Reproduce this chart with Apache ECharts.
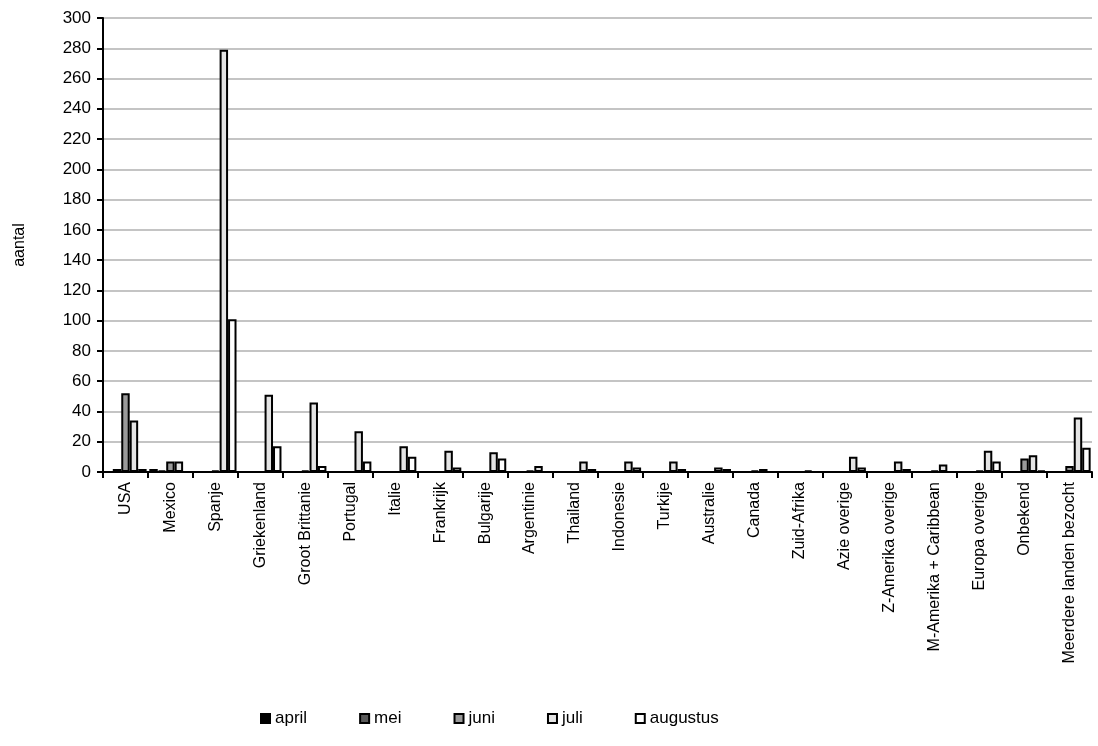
<!DOCTYPE html>
<html>
<head>
<meta charset="utf-8">
<script src="https://cdn.jsdelivr.net/npm/echarts@6/dist/echarts.min.js"></script>
<style>
  html, body { margin: 0; padding: 0; background: #fff; }
  #chart { width: 1098px; height: 746px; }
</style>
</head>
<body>
<div id="chart"></div>
<script>
  // landen (categorieen)
  const countries = ['USA', 'Mexico', 'Spanje', 'Griekenland', 'Groot Brittanie', 'Portugal', 'Italie',
    'Frankrijk', 'Bulgarije', 'Argentinie', 'Thailand', 'Indonesie', 'Turkije', 'Australie', 'Canada',
    'Zuid-Afrika', 'Azie overige', 'Z-Amerika overige', 'M-Amerika + Caribbean', 'Europa overige',
    'Onbekend', 'Meerdere landen bezocht']

  // waarden per maand
  const april    = [0, 2, 0, 0, 0, 0, 0, 0, 0, 0, 0, 0, 0, 0, 0, 0, 0, 0, 0, 0, 0, 0]
  const mei      = [2, 1, 0, 0, 0, 0, 0, 0, 0, 0, 0, 0, 0, 0, 0, 0, 0, 0, 0, 0, 0, 0]
  const juni     = [52, 7, 1, 0, 1, 0, 0, 0, 0, 1, 0, 0, 0, 0, 1, 0, 0, 0, 1, 1, 9, 4]
  const juli     = [34, 7, 279, 51, 46, 27, 17, 14, 13, 4, 7, 7, 7, 3, 2, 1, 10, 7, 5, 14, 11, 36]
  const augustus = [2, 0, 101, 17, 4, 7, 10, 3, 9, 0, 2, 3, 2, 2, 0, 0, 3, 2, 0, 7, 1, 16]

  const yTicks = { min: 0, max: 300, interval: 20 }

  const months = [
    { name: 'april', data: april, color: '#000000' },
    { name: 'mei', data: mei, color: '#5a5a5a' },
    { name: 'juni', data: juni, color: '#9a9a9a' },
    { name: 'juli', data: juli, color: '#e4e4e4' },
    { name: 'augustus', data: augustus, color: '#ffffff' }
  ]

  const font = 'Liberation Sans, Arial, sans-serif'
  const myChart = echarts.init(document.getElementById('chart'))
  myChart.setOption({
    animation: false,
    textStyle: { fontFamily: font },
    grid: {
      left: 103,
      right: 6,
      top: 18,
      bottom: 274
    },
    legend: {
      bottom: 14,
      left: 255,
      itemWidth: 9,
      itemHeight: 9,
      itemGap: 52,
      icon: 'rect',
      textStyle: { fontSize: 17, color: '#000', fontFamily: font },
      data: months.map(m => m.name)
    },
    xAxis: {
      type: 'category',
      data: countries,
      axisLine: { lineStyle: { color: '#000', width: 2 } },
      axisTick: { show: true, length: 6, interval: 0, lineStyle: { color: '#000', width: 2 } },
      axisLabel: {
        rotate: 90,
        interval: 0,
        margin: 10,
        fontSize: 16,
        color: '#000',
        fontFamily: font
      },
      splitLine: { show: false }
    },
    yAxis: {
      type: 'value',
      min: yTicks.min,
      max: yTicks.max,
      interval: yTicks.interval,
      name: 'aantal',
      nameLocation: 'middle',
      nameRotate: 90,
      nameGap: 75,
      nameTextStyle: { fontSize: 16, color: '#000', fontFamily: font },
      axisLine: { show: true, lineStyle: { color: '#000', width: 2 } },
      axisTick: { show: true, length: 6, lineStyle: { color: '#000', width: 2 } },
      axisLabel: { fontSize: 17, color: '#000', margin: 12, fontFamily: font },
      splitLine: { lineStyle: { color: '#c4c4c4', width: 2 } }
    },
    series: months.map(m => ({
      name: m.name,
      type: 'bar',
      data: m.data,
      barGap: 0,
      barCategoryGap: '6%',
      itemStyle: {
        color: m.color,
        borderColor: '#000',
        borderWidth: 2
      }
    }))
  })
</script>
</body>
</html>
